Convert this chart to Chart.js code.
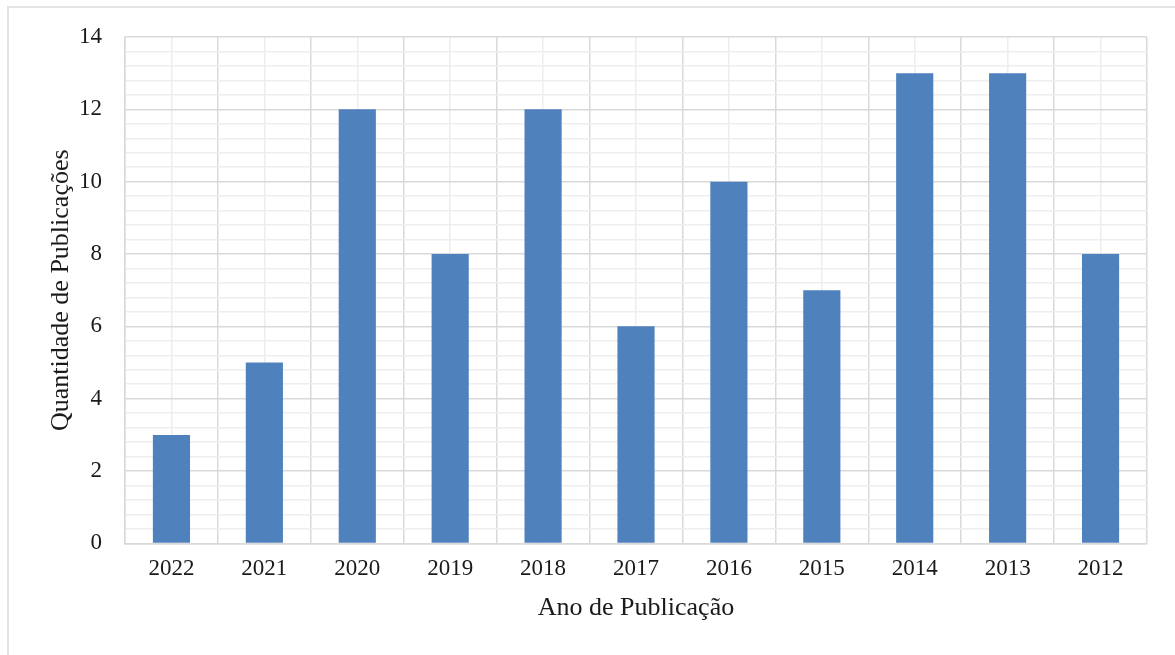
<!DOCTYPE html>
<html>
<head>
<meta charset="utf-8">
<script src="https://cdn.jsdelivr.net/npm/chart.js@4"></script>
<style>
  html, body { margin: 0; padding: 0; background: #fff; }
  #wrap { position: relative; width: 1175px; height: 655px; overflow: hidden; }
  #frame { position: absolute; left: 7px; top: 6px; right: -5px; bottom: -5px;
           border-top: 2px solid #e3e3e3; border-left: 2px solid #e3e3e3; }
  canvas { position: absolute; left: 0; top: 0; }
</style>
</head>
<body>
<div id="wrap">
  <div id="frame"></div>
  <canvas id="barChart_publicacoes" width="1175" height="655"></canvas>
</div>
<script>
const years = ["2022", "2021", "2020", "2019", "2018", "2017", "2016", "2015", "2014", "2013", "2012"];
const publicacoes = [3, 5, 12, 8, 12, 6, 10, 7, 13, 13, 8];
const yTickLabels = [0, 2, 4, 6, 8, 10, 12, 14];
const yMinorStep = 0.4;

const fontFamily = "'Liberation Serif', 'Times New Roman', serif";
const textColor = "#1a1a1a";
const majorGrid = "#d9d9d9";
const minorGrid = "#eeeeee";

const isMajor = (v) => yTickLabels.some(t => Math.abs(t - v) < 1e-6);

const el = document.getElementById("barChart_publicacoes");
const ctx = el.getContext("2d");

const data = {
  labels: years,
  datasets: [
    {
      data: publicacoes,
      backgroundColor: "#4f81bd",
      barPercentage: 0.4,
      categoryPercentage: 1,
    },
  ],
};

const options = {
  responsive: false,
  animation: false,
  layout: { padding: { left: 46, right: 28, top: 37, bottom: 34 } },
  plugins: {
    legend: { display: false },
    tooltip: { enabled: false },
  },
  scales: {
    x: {
      offset: true,
      grid: { offset: true, color: majorGrid, lineWidth: 1.5, drawTicks: false },
      border: { color: majorGrid, width: 1.5 },
      ticks: {
        color: textColor,
        padding: 12,
        font: { family: fontFamily, size: 23 },
      },
      title: {
        display: true,
        text: "Ano de Publicação",
        color: textColor,
        font: { family: fontFamily, size: 26, lineHeight: 1.0 },
        padding: { top: 0, bottom: 0 },
      },
    },
    // minor vertical lines at category centres
    x2: {
      type: "category",
      labels: years,
      position: "bottom",
      offset: true,
      grid: { offset: false, color: minorGrid, lineWidth: 1.5, drawTicks: false },
      border: { display: false },
      ticks: { display: false },
    },
    y: {
      min: yTickLabels[0],
      max: yTickLabels[yTickLabels.length - 1],
      afterFit: (scale) => { scale.width = 79; },
      grid: {
        drawTicks: false,
        lineWidth: 1.5,
        color: (c) => isMajor(c.tick.value) ? majorGrid : minorGrid,
      },
      border: { color: majorGrid, width: 1.5 },
      ticks: {
        stepSize: yMinorStep,
        autoSkip: false,
        padding: 23,
        color: textColor,
        font: { family: fontFamily, size: 23 },
        callback: (value) => isMajor(value) ? String(Math.round(value)) : "",
      },
      title: {
        display: true,
        text: "Quantidade de Publicações",
        color: textColor,
        font: { family: fontFamily, size: 26 },
        padding: { top: 0, bottom: 4 },
      },
    },
  },
};

const barChart = new Chart(ctx, {
  type: "bar",
  data,
  options,
});
</script>
</body>
</html>
